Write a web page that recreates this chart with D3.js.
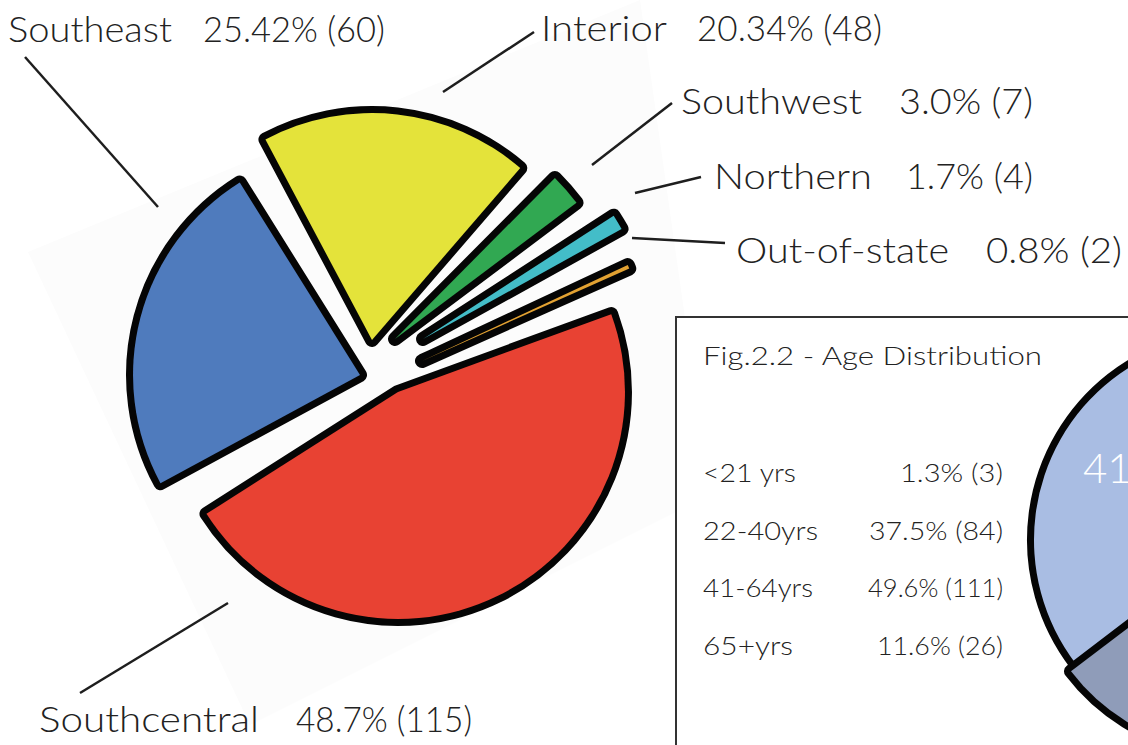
<!DOCTYPE html>
<html><head><meta charset="utf-8">
<script src="https://cdn.jsdelivr.net/npm/d3@7"></script>
<style>
body{margin:0;background:#fff;}
text{font-family:Lato,"Noto Sans",sans-serif;font-weight:300;}
</style>
</head><body>
<svg id="chart" width="1128" height="745"></svg>
<script>
// ---------- data ----------
const regions = ["Interior","Southwest","Northern","Out-of-state","Southcentral","Southeast"];
const regionCounts = [48,7,4,2,115,60];
const regionPct = ["20.34%","3.0%","1.7%","0.8%","48.7%","25.42%"];
const regionColors = ["#e4e33a","#31a852","#43bdc8","#e3a232","#e84233","#4f7bbd"];

const ageGroups = ["<21 yrs","22-40yrs","41-64yrs","65+yrs"];
const ageCounts = [3,84,111,26];
const agePct = ["1.3%","37.5%","49.6%","11.6%"];
const ageColors = ["#c9d4ea","#7f90b4","#a9bde3","#8f9cb9"];
const insetTitle = "Fig.2.2 - Age Distribution";

// ---------- layout (positions / styles) ----------
const W = 1128, H = 745;
// explode: distance and direction (deg, clockwise from 12 o'clock)
const main = {cx:378, cy:360, r:227, start:-30, pad:2, stroke:14,
  explode:[{d:20.9,a:-16.7},{d:27,a:39},{d:49.7,a:65},{d:44,a:91.3},{d:37.7,a:148},{d:23.4,a:230.2}]};
const labelLayout = [
  {nx:541, nw:126, vx:697, vw:185, y:41,  line:[[443,92],[534,32]]},
  {nx:681, nw:181, vx:899, vw:134, y:114, line:[[592,165],[672,103]]},
  {nx:714, nw:158, vx:906, vw:127, y:189, line:[[635,193],[701,177]]},
  {nx:736, nw:213, vx:986, vw:136, y:263, line:[[632,238],[725,243]]},
  {nx:39,  nw:220, vx:296, vw:176, y:732, line:[[228,603],[80,693]]},
  {nx:8,   nw:164, vx:203, vw:182, y:42,  line:[[158,207],[25,57]]}
];
const rowLayout = {lx:703, vx:1003, ys:[482,540,597,655], lw:[93,115,110,90], vw:[103,134,135,126]};
const inset = {x:676, y:317, cx:1238, cy:540, r:204, start:190.9, stroke:14, explode:[0,0,0,9]};

const svg = d3.select("#chart");
const rad = d => d*Math.PI/180;

// faint rotated paper behind the main pie
svg.append("polygon")
  .attr("points", [[28,252],[640,0],[710,495],[250,725]].map(p=>p.join(",")).join(" "))
  .attr("fill","#fcfcfc");

// ---------- main exploded pie ----------
const pie = d3.pie().sort(null).value(d=>d).padAngle(rad(main.pad))
  .startAngle(rad(main.start)).endAngle(rad(main.start+360));
const arcs = pie(regionCounts);
const arc = d3.arc().innerRadius(0).outerRadius(main.r)
  .startAngle(d=>d.startAngle + d.padAngle/2)
  .endAngle(d=>d.endAngle - d.padAngle/2);

const g = svg.append("g").attr("transform",`translate(${main.cx},${main.cy})`);
g.selectAll("path").data(arcs).join("path")
  .attr("d", arc)
  .attr("transform",(d,i)=>{
    const e = main.explode[i], m = rad(e.a);
    return `translate(${Math.sin(m)*e.d},${-Math.cos(m)*e.d})`;
  })
  .attr("fill",(d,i)=>regionColors[i])
  .attr("stroke","#050505").attr("stroke-width",main.stroke)
  .attr("stroke-linejoin","round")
  .attr("paint-order","stroke");

// leader lines and labels
labelLayout.forEach((L,i)=>{
  svg.append("line")
    .attr("x1",L.line[0][0]).attr("y1",L.line[0][1])
    .attr("x2",L.line[1][0]).attr("y2",L.line[1][1])
    .attr("stroke","#1e1e1e").attr("stroke-width",2.5);
  svg.append("text").attr("x",L.nx).attr("y",L.y)
    .attr("font-size",36).attr("fill","#222")
    .attr("textLength",L.nw).attr("lengthAdjust","spacingAndGlyphs")
    .text(regions[i]);
  svg.append("text").attr("x",L.vx).attr("y",L.y)
    .attr("font-size",36).attr("fill","#222")
    .attr("textLength",L.vw).attr("lengthAdjust","spacingAndGlyphs")
    .text(`${regionPct[i]} (${regionCounts[i]})`);
});

// ---------- inset panel ----------
svg.append("rect").attr("x",inset.x).attr("y",inset.y)
  .attr("width",W-inset.x+20).attr("height",H-inset.y+20)
  .attr("fill","#fff").attr("stroke","#333").attr("stroke-width",2);

svg.append("text").attr("x",rowLayout.lx).attr("y",365)
  .attr("font-size",25).attr("fill","#222")
  .attr("textLength",339).attr("lengthAdjust","spacingAndGlyphs")
  .text(insetTitle);

ageGroups.forEach((a,i)=>{
  svg.append("text").attr("x",rowLayout.lx).attr("y",rowLayout.ys[i])
    .attr("font-size",26).attr("fill","#222")
    .attr("textLength",rowLayout.lw[i]).attr("lengthAdjust","spacingAndGlyphs")
    .text(a);
  svg.append("text").attr("x",rowLayout.vx).attr("y",rowLayout.ys[i])
    .attr("text-anchor","end")
    .attr("font-size",26).attr("fill","#222")
    .attr("textLength",rowLayout.vw[i]).attr("lengthAdjust","spacingAndGlyphs")
    .text(`${agePct[i]} (${ageCounts[i]})`);
});

// inset pie (counter-clockwise order)
const pie2 = d3.pie().sort(null).value(d=>d)
  .startAngle(rad(inset.start)).endAngle(rad(inset.start-360));
const arcs2 = pie2(ageCounts);
const arc2 = d3.arc().innerRadius(0).outerRadius(inset.r);
const g2 = svg.append("g").attr("transform",`translate(${inset.cx},${inset.cy})`);
g2.selectAll("path").data(arcs2).join("path")
  .attr("d",arc2)
  .attr("transform",(d,i)=>{
    const m=(d.startAngle+d.endAngle)/2, e=inset.explode[i];
    return `translate(${Math.sin(m)*e},${-Math.cos(m)*e})`;
  })
  .attr("fill",(d,i)=>ageColors[i])
  .attr("stroke","#050505").attr("stroke-width",inset.stroke)
  .attr("stroke-linejoin","round")
  .attr("paint-order","stroke");

svg.append("text").attr("x",1083).attr("y",483)
  .attr("font-size",42).attr("fill","#fff").attr("font-weight",400)
  .text(ageGroups[2]);
</script>
</body></html>
